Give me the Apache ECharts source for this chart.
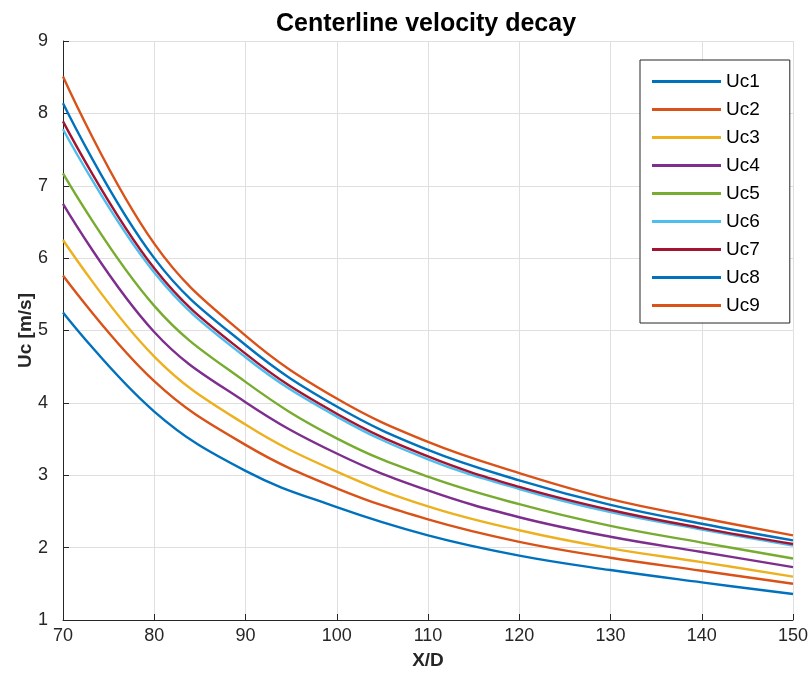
<!DOCTYPE html>
<html>
<head>
<meta charset="utf-8">
<script src="https://cdn.jsdelivr.net/npm/echarts@6/dist/echarts.min.js"></script>
<style>html,body{margin:0;padding:0;background:#fff}#c{width:812px;height:687px}</style>
</head>
<body>
<div id="c"></div>
<script>
const xValues = [70, 80, 90, 100, 110, 120, 130, 140, 150];
const Uc1 = [5.25, 3.88, 3.06, 2.56, 2.17, 1.89, 1.69, 1.52, 1.36];
const Uc2 = [5.76, 4.30, 3.42, 2.82, 2.39, 2.08, 1.86, 1.68, 1.50];
const Uc3 = [6.25, 4.64, 3.70, 3.05, 2.57, 2.24, 1.99, 1.80, 1.60];
const Uc4 = [6.75, 4.98, 4.01, 3.30, 2.79, 2.42, 2.15, 1.94, 1.73];
const Uc5 = [7.17, 5.34, 4.29, 3.51, 2.98, 2.60, 2.30, 2.07, 1.85];
const Uc6 = [7.78, 5.80, 4.63, 3.81, 3.22, 2.81, 2.49, 2.25, 2.03];
const Uc7 = [7.89, 5.86, 4.68, 3.85, 3.26, 2.84, 2.52, 2.27, 2.05];
const Uc8 = [8.14, 6.00, 4.80, 3.95, 3.35, 2.93, 2.59, 2.33, 2.10];
const Uc9 = [8.51, 6.20, 4.93, 4.06, 3.46, 3.03, 2.67, 2.41, 2.17];
const seriesNames = ['Uc1','Uc2','Uc3','Uc4','Uc5','Uc6','Uc7','Uc8','Uc9'];
const seriesData = [Uc1, Uc2, Uc3, Uc4, Uc5, Uc6, Uc7, Uc8, Uc9];
const colors = ['#0072BD','#D95319','#EDB120','#7E2F8E','#77AC30','#4DBEEE','#A2142F','#0072BD','#D95319'];

const font = 'Liberation Sans, Arial, Helvetica, sans-serif';
const chart = echarts.init(document.getElementById('c'));
chart.setOption({
  animation: false,
  backgroundColor: '#fff',
  color: colors,
  title: {
    text: 'Centerline velocity decay',
    left: 421, top: 7, textAlign: 'center',
    textStyle: { fontFamily: font, fontSize: 25, fontWeight: 'bold', color: '#000' }
  },
  legend: {
    orient: 'vertical',
    left: 640, top: 60,
    padding: [12, 30, 8, 12],
    itemGap: 9, itemWidth: 69, itemHeight: 3,
    icon: 'rect',
    backgroundColor: '#fff', borderColor: '#262626', borderWidth: 1,
    textStyle: { fontFamily: font, fontSize: 19, color: '#000', padding: [0,0,0,0] },
    data: seriesNames
  },
  grid: { left: 63, right: 19, top: 41, bottom: 67, containLabel: false },
  xAxis: {
    type: 'value', min: 70, max: 150, interval: 10,
    name: 'X/D', nameLocation: 'middle', nameGap: 31, nameMoveOverlap: false,
    nameTextStyle: { fontFamily: font, fontSize: 19, fontWeight: 'bold', color: '#262626' },
    axisLine: { lineStyle: { color: '#262626', width: 1 } },
    axisTick: { inside: true, length: 6, lineStyle: { color: '#262626' } },
    axisLabel: { fontFamily: font, fontSize: 18, color: '#262626', margin: 7 },
    splitLine: { show: true, lineStyle: { color: '#dfdfdf', width: 1 } }
  },
  yAxis: {
    type: 'value', min: 1, max: 9, interval: 1,
    name: 'Uc [m/s]', nameLocation: 'middle', nameGap: 28, nameMoveOverlap: false,
    nameTextStyle: { fontFamily: font, fontSize: 19, fontWeight: 'bold', color: '#262626' },
    axisLine: { show: true, lineStyle: { color: '#262626', width: 1 } },
    axisTick: { show: true, inside: true, length: 6, lineStyle: { color: '#262626' } },
    axisLabel: { fontFamily: font, fontSize: 18, color: '#262626', margin: 15 },
    splitLine: { show: true, lineStyle: { color: '#dfdfdf', width: 1 } }
  },
  series: seriesNames.map((n, i) => ({
    name: n, type: 'line', symbol: 'none', smooth: 0.4,
    lineStyle: { width: 2.4, color: colors[i] },
    itemStyle: { color: colors[i] },
    data: xValues.map((x, j) => [x, seriesData[i][j]])
  }))
});
</script>
</body>
</html>
